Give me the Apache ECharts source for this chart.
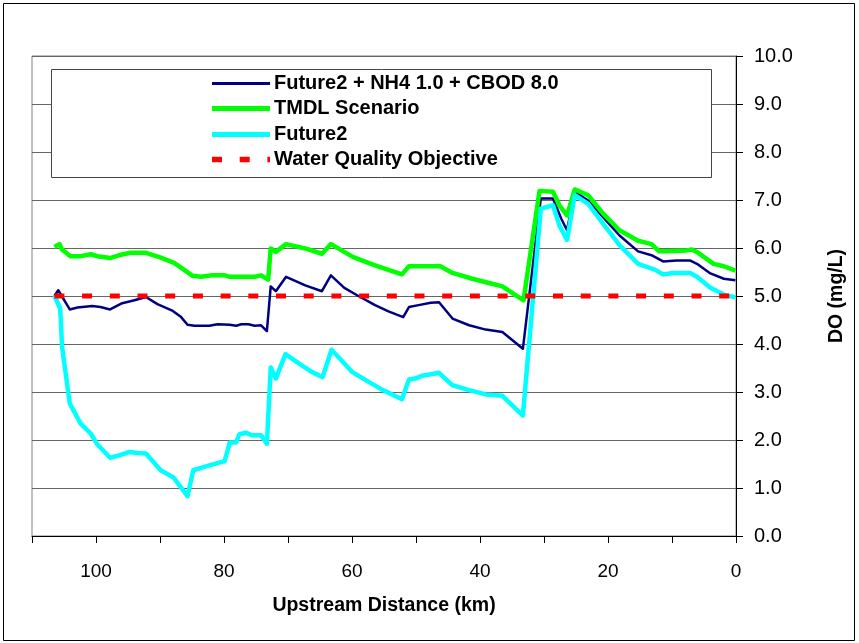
<!DOCTYPE html>
<html>
<head>
<meta charset="utf-8">
<script src="https://cdn.jsdelivr.net/npm/echarts/dist/echarts.min.js"></script>
<style>
html,body{margin:0;padding:0;background:#fff;}
#chart{width:859px;height:643px;}
</style>
</head>
<body>
<div id="chart"></div>
<script>
// ---- data ----
const seriesNames = ['Future2 + NH4 1.0 + CBOD 8.0', 'TMDL Scenario', 'Future2', 'Water Quality Objective'];

const kmNavy = [106.5,105.9,104.1,102.9,100.6,99.3,97.8,95.9,94.0,92.2,90.4,88.0,86.7,85.7,84.6,82.3,81.0,79.1,78.1,77.3,76.2,75.2,74.2,73.3,72.7,71.9,70.3,67.3,64.7,63.3,61.2,59.0,56.4,54.3,52.0,51.1,49.6,47.7,46.4,44.3,41.7,39.1,36.5,33.3,30.5,28.6,27.3,26.4,25.2,23.1,20.8,18.2,15.3,13.2,11.4,9.3,7.2,6.1,4.0,1.9,0.1];
const doNavy = [5.00,5.12,4.72,4.76,4.79,4.77,4.72,4.85,4.91,4.98,4.83,4.69,4.56,4.40,4.38,4.38,4.41,4.40,4.38,4.41,4.41,4.38,4.39,4.27,5.20,5.10,5.40,5.22,5.10,5.43,5.17,5.00,4.81,4.68,4.56,4.77,4.81,4.86,4.87,4.53,4.39,4.30,4.25,3.90,7.03,7.03,6.61,6.37,7.17,6.99,6.65,6.26,5.93,5.85,5.72,5.74,5.74,5.67,5.47,5.36,5.33];

const kmGreen = [106.5,105.7,105.3,104.0,102.4,100.8,99.8,97.8,96.1,94.6,92.2,90.1,87.8,86.5,84.9,83.6,82.0,79.9,79.1,76.2,75.2,74.2,73.1,72.7,71.9,70.3,67.3,64.7,63.3,59.8,56.4,52.2,51.1,49.6,46.2,44.3,41.2,38.6,36.5,33.2,30.7,28.6,27.6,26.4,25.2,23.1,20.8,18.2,15.3,13.2,12.0,10.8,7.7,6.9,5.9,3.5,1.9,0.1];
const doGreen = [6.02,6.08,5.97,5.83,5.83,5.87,5.83,5.79,5.86,5.90,5.90,5.81,5.69,5.57,5.42,5.40,5.43,5.43,5.40,5.40,5.40,5.43,5.34,5.99,5.92,6.08,5.99,5.88,6.08,5.81,5.64,5.45,5.62,5.62,5.62,5.48,5.36,5.27,5.20,4.91,7.19,7.17,6.89,6.68,7.22,7.10,6.72,6.37,6.15,6.08,5.93,5.93,5.95,5.97,5.90,5.67,5.62,5.53];

const kmCyan = [106.5,105.6,105.3,104.1,102.4,100.8,99.8,97.8,96.4,94.8,93.4,92.2,89.9,87.9,85.7,84.8,82.3,79.9,79.1,78.1,77.6,76.5,75.7,74.2,73.3,72.7,71.9,70.4,67.9,66.3,64.6,63.2,60.0,57.4,55.3,52.2,51.1,50.1,49.0,46.4,44.3,41.7,39.1,36.5,33.3,30.5,28.6,27.6,26.4,25.2,23.1,20.8,18.2,15.3,12.7,11.4,9.8,7.2,6.1,4.0,1.9,0.1];
const doCyan = [5.01,4.74,3.94,2.76,2.34,2.13,1.91,1.63,1.68,1.75,1.73,1.72,1.37,1.22,0.83,1.37,1.47,1.56,1.95,1.95,2.12,2.15,2.10,2.10,1.92,3.51,3.28,3.79,3.56,3.42,3.31,3.88,3.42,3.21,3.05,2.85,3.26,3.28,3.34,3.40,3.14,3.04,2.95,2.92,2.51,6.82,6.89,6.47,6.17,7.10,6.92,6.51,6.06,5.67,5.55,5.45,5.48,5.48,5.40,5.17,5.03,4.97];

const kmObjective = [106.5, 0];
const doObjective = [5.0, 5.0];

const xTicks = [0, 20, 40, 60, 80, 100];

// ---- styles ----
const FONT = '"Liberation Sans", Arial, sans-serif';
const seriesStyles = [
  {color: '#000080', width: 2.5, dash: null, z: 2},
  {color: '#00ff00', width: 4.5, dash: null, z: 3},
  {color: '#00ffff', width: 4.5, dash: null, z: 4},
  {color: '#ff0000', width: 5, dash: [10, 17.7], z: 5}
];
const seriesData = [
  [kmNavy, doNavy], [kmGreen, doGreen], [kmCyan, doCyan], [kmObjective, doObjective]
];

const pairs = (xs, ys) => xs.map((x, i) => [x, ys[i]]);

// legend drawn as graphic (box + line samples + real text)
const legendGraphics = [
  {type: 'rect', z: 5, shape: {x: 51.5, y: 69.5, width: 660, height: 108},
   style: {fill: '#fff', stroke: '#444', lineWidth: 1}}
];
const legendY0 = 83, legendStep = 25.3;
seriesNames.forEach((name, i) => {
  const st = seriesStyles[i];
  const y = Math.round(legendY0 + i * legendStep) + 0.5;
  legendGraphics.push({type: 'line', z: 6, shape: {x1: 212, y1: y, x2: 270, y2: y},
    style: {stroke: st.color, lineWidth: st.width + (i === 0 ? 0.5 : 0.5), lineDash: st.dash || null, lineCap: 'butt'}});
  legendGraphics.push({type: 'text', z: 6, style: {text: name, x: 274, y: y,
    fontFamily: FONT, fontWeight: 'bold', fontSize: 20, fill: '#000', verticalAlign: 'middle', align: 'left'}});
});

const chart = echarts.init(document.getElementById('chart'), null, {renderer: 'canvas'});
chart.setOption({
  animation: false,
  backgroundColor: '#ffffff',
  textStyle: {fontFamily: FONT, color: '#000'},
  grid: {left: 32, right: 123, top: 56, bottom: 107, show: true, borderColor: '#808080', borderWidth: 1, backgroundColor: 'transparent'},
  xAxis: {
    type: 'value', min: 0, max: 110, interval: 10, inverse: true,
    name: 'Upstream Distance (km)', nameLocation: 'middle', nameGap: 60,
    nameTextStyle: {fontFamily: FONT, fontWeight: 'bold', fontSize: 19.5, color: '#000'},
    axisLine: {show: true, lineStyle: {color: '#000', width: 1}},
    axisTick: {show: true, inside: false, length: 7, lineStyle: {color: '#000'}},
    axisLabel: {margin: 26, fontSize: 19, color: '#000', fontFamily: FONT,
      formatter: v => xTicks.indexOf(v) >= 0 ? String(v) : ''},
    splitLine: {show: false}
  },
  yAxis: {
    type: 'value', position: 'right', min: 0, max: 10, interval: 1,
    name: 'DO (mg/L)', nameLocation: 'middle', nameRotate: 90, nameGap: 91,
    nameTextStyle: {fontFamily: FONT, fontWeight: 'bold', fontSize: 19.5, color: '#000'},
    axisLine: {show: true, lineStyle: {color: '#000', width: 1}},
    axisTick: {show: true, inside: false, length: 7, lineStyle: {color: '#000'}},
    axisLabel: {margin: 18, fontSize: 20, color: '#000', fontFamily: FONT, formatter: v => v.toFixed(1)},
    splitLine: {show: true, lineStyle: {color: '#666', width: 1}}
  },
  graphic: legendGraphics.concat([
    {type: 'rect', z: 5, shape: {x: 3.5, y: 3.5, width: 851, height: 637},
     style: {fill: 'none', stroke: '#000', lineWidth: 1}}
  ]),
  series: seriesNames.map((name, i) => ({
    name: name, type: 'line', data: pairs(seriesData[i][0], seriesData[i][1]),
    showSymbol: false, symbol: 'none', z: seriesStyles[i].z,
    lineStyle: {color: seriesStyles[i].color, width: seriesStyles[i].width,
      type: seriesStyles[i].dash || 'solid', join: 'round'},
    itemStyle: {color: seriesStyles[i].color}
  }))
});
</script>
</body>
</html>
